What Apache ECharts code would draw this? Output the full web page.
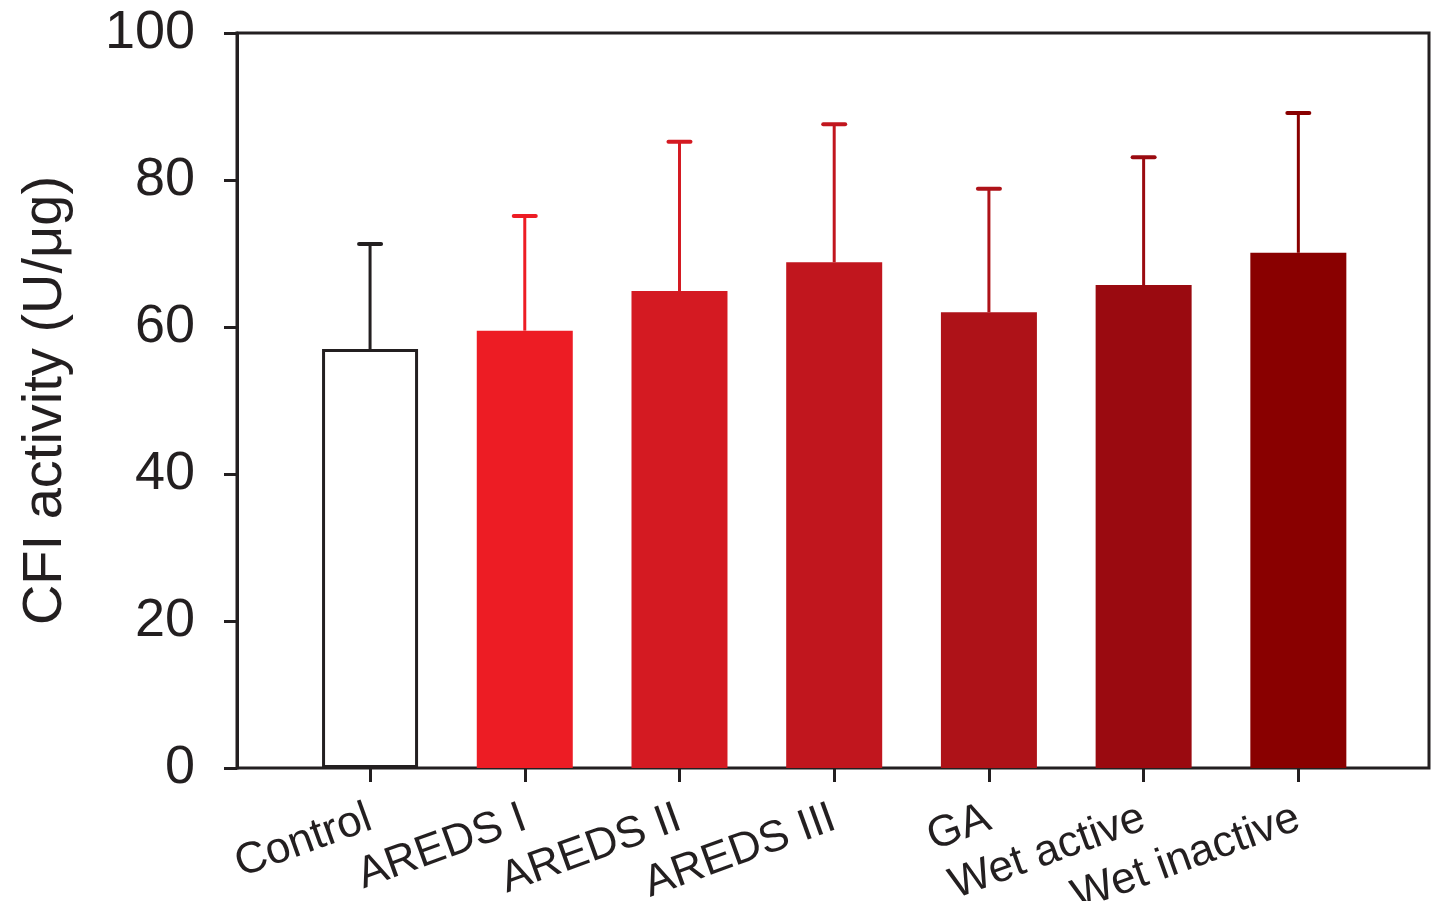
<!DOCTYPE html>
<html><head><meta charset="utf-8">
<script src="https://cdn.jsdelivr.net/npm/echarts@6/dist/echarts.min.js"></script>
<style>html,body{margin:0;padding:0;background:#fff}#c{width:1432px;height:901px}</style>
</head><body><div id="c"></div>
<script>
var categories = ['Control', 'AREDS I', 'AREDS II', 'AREDS III', 'GA', 'Wet active', 'Wet inactive'];
var means = [57.0, 59.5, 64.9, 68.8, 62.0, 65.7, 70.1];
var upperErr = [71.3, 75.1, 85.2, 87.6, 78.8, 83.1, 89.1];
var yTicks = [0, 20, 40, 60, 80, 100];
var barColors = ['#ffffff', '#ED1C24', '#D41A22', '#C1161E', '#AE1218', '#9A0A10', '#890000'];
var lineColors = ['#231F20', '#ED1C24', '#D41A22', '#C1161E', '#AE1218', '#9A0A10', '#890000'];

var ink = '#231F20';
var font = 'Liberation Sans, Arial, Helvetica, sans-serif';
var chart = echarts.init(document.getElementById('c'), null, {renderer: 'canvas'});

var barData = means.map(function (v, i) {
  var it = {value: v, itemStyle: {color: barColors[i]}};
  if (i === 0) { it.itemStyle.borderColor = ink; it.itemStyle.borderWidth = 3; }
  return it;
});
var errData = means.map(function (v, i) { return [i, v, upperErr[i]]; });

chart.setOption({
  animation: false,
  grid: [
    {left: 237, right: 3, top: 33, bottom: 133, show: true, borderColor: ink, borderWidth: 3, backgroundColor: 'transparent', outerBoundsMode: 'none', containLabel: false},
    {left: 292.7, right: 56.3, top: 33, bottom: 133, outerBoundsMode: 'none', containLabel: false}
  ],
  xAxis: [
    {gridIndex: 0, type: 'value', min: 0, max: 1, show: false},
    {gridIndex: 1, type: 'category', data: categories, boundaryGap: true,
     axisLine: {show: false},
     axisTick: {show: true, alignWithLabel: true, length: 14, lineStyle: {color: ink, width: 3}},
     axisLabel: {rotate: 20, margin: 49, color: ink, fontSize: 44, fontFamily: font, interval: 0}}
  ],
  yAxis: [
    {gridIndex: 0, type: 'value', min: 0, max: 100, interval: 20,
     splitLine: {show: false},
     axisLine: {show: true, lineStyle: {color: ink, width: 3}},
     axisTick: {show: true, length: 13, lineStyle: {color: ink, width: 3}},
     axisLabel: {margin: 42, color: ink, fontSize: 54, fontFamily: font,
       formatter: function (v) { return yTicks.indexOf(v) >= 0 ? String(v) : ''; }},
     name: 'CFI activity (U/μg)', nameLocation: 'middle', nameRotate: 90, nameGap: 163,
     nameTextStyle: {color: ink, fontSize: 56, fontFamily: font}},
    {gridIndex: 1, type: 'value', min: 0, max: 100, interval: 20, show: false}
  ],
  series: [
    {type: 'bar', xAxisIndex: 1, yAxisIndex: 1, data: barData, barWidth: 96, z: 2},
    {type: 'custom', xAxisIndex: 1, yAxisIndex: 1, data: errData, z: 3,
     renderItem: function (params, api) {
       var i = api.value(0);
       var base = api.coord([i, api.value(1)]);
       var top = api.coord([i, api.value(2)]);
       var col = lineColors[i];
       var half = 11;
       return {type: 'group', children: [
         {type: 'line', shape: {x1: base[0], y1: base[1], x2: top[0], y2: top[1]}, style: {stroke: col, lineWidth: 3}},
         {type: 'line', shape: {x1: top[0] - half, y1: top[1], x2: top[0] + half, y2: top[1]}, style: {stroke: col, lineWidth: 4, lineCap: 'round'}}
       ]};
     }}
  ]
});
</script></body></html>
